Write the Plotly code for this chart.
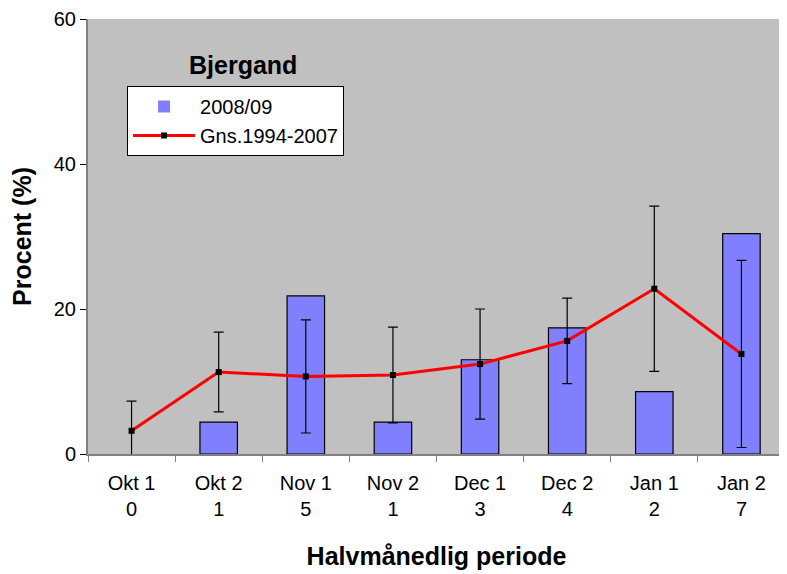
import plotly.graph_objects as go

categories = ["Okt 1", "Okt 2", "Nov 1", "Nov 2", "Dec 1", "Dec 2", "Jan 1", "Jan 2"]
counts = ["0", "1", "5", "1", "3", "4", "2", "7"]
season_2008_09 = [0, 4.4, 21.8, 4.4, 13.0, 17.4, 8.6, 30.4]
mean_1994_2007 = [3.2, 11.3, 10.7, 10.9, 12.4, 15.6, 22.8, 13.8]
sd_1994_2007 = [4.1, 5.5, 7.8, 6.6, 7.6, 5.9, 11.4, 12.9]

tick_labels = [f"{c}<br>{n}" for c, n in zip(categories, counts)]
FONT = "Liberation Sans, Arial, sans-serif"

fig = go.Figure()
fig.add_trace(go.Bar(
    x=categories, y=season_2008_09, name="2008/09",
    marker=dict(color="#8080FF",
                line=dict(color="#000000",
                          width=[1.2 if v > 0 else 0 for v in season_2008_09])),
    width=0.43,
))
fig.add_trace(go.Scatter(
    x=categories, y=mean_1994_2007, name="Gns.1994-2007",
    mode="lines+markers",
    line=dict(color="#FF0000", width=3),
    marker=dict(symbol="square", color="#000000", size=6),
    error_y=dict(type="data", array=sd_1994_2007, visible=True,
                 color="#000000", thickness=1.2, width=5),
))

# page body has an 8px margin, so the figure is 8px smaller than the window
fig.update_layout(
    width=779, height=566,
    margin=dict(l=80, r=2, t=11, b=120, autoexpand=False),
    paper_bgcolor="white", plot_bgcolor="#C0C0C0",
    font=dict(family=FONT, size=20, color="black"),
    showlegend=True,
    legend=dict(
        x=0.056, y=0.846, xanchor="left", yanchor="top",
        bgcolor="white", bordercolor="black", borderwidth=1,
        font=dict(size=20), itemwidth=62,
    ),
    annotations=[dict(
        text="<b>Bjergand</b>", x=0.222, y=0.895, xref="paper", yref="paper",
        xanchor="center", yanchor="middle", showarrow=False,
        font=dict(size=25, family=FONT),
    )],
)
fig.update_xaxes(
    tickmode="array", tickvals=categories, ticktext=tick_labels,
    showline=True, linecolor="#808080", linewidth=2,
    ticks="outside", ticklen=6, tickcolor="#808080",
    tickson="boundaries", automargin=False, ticklabelstandoff=10,
    tickfont=dict(size=20),
    title=dict(text="<b>Halvmånedlig periode</b>", font=dict(size=25), standoff=28),
    showgrid=False,
)
fig.update_yaxes(
    range=[0, 60], tickvals=[0, 20, 40, 60],
    showline=True, linecolor="#808080", linewidth=2,
    ticks="outside", ticklen=6, tickcolor="#000000",
    automargin=False, tickfont=dict(size=20),
    title=dict(text="<b>Procent (%)</b>", font=dict(size=25), standoff=16),
    showgrid=False, zeroline=False,
)

fig.write_html("out.html")
